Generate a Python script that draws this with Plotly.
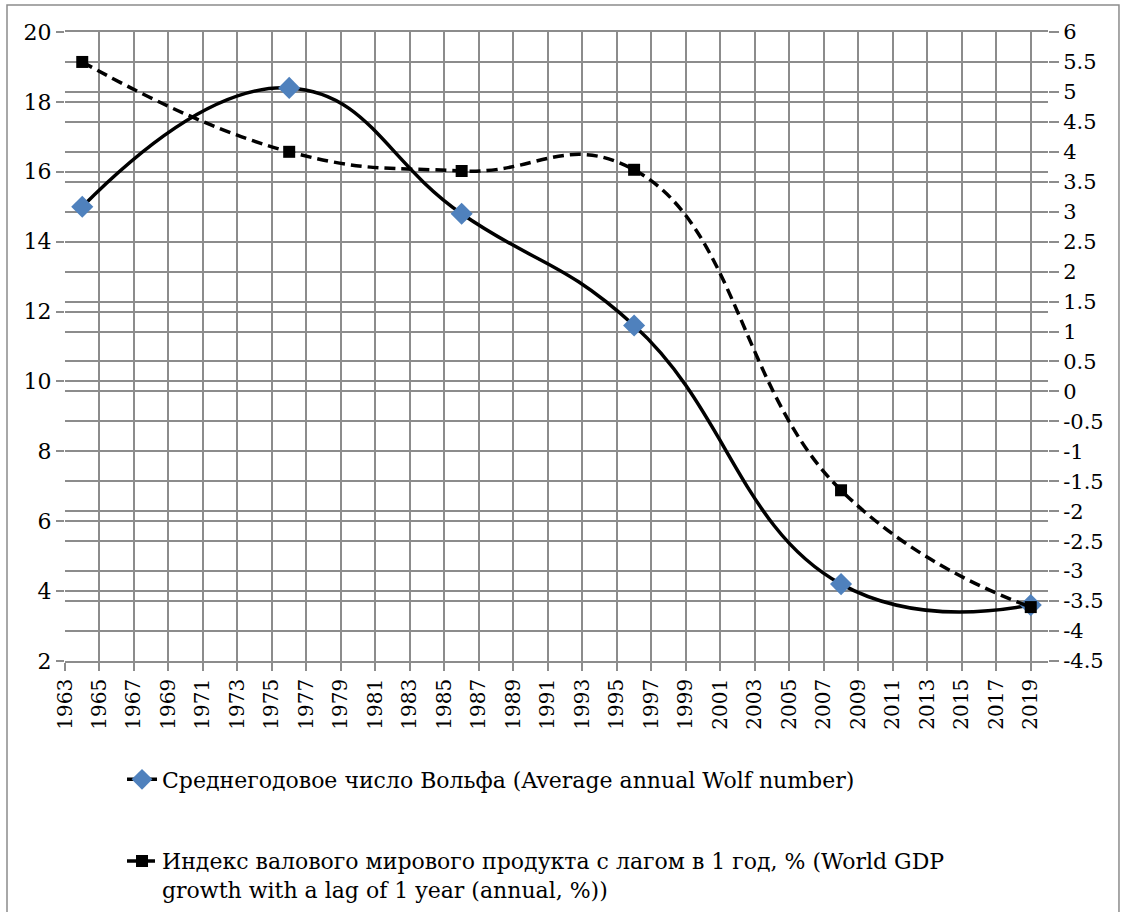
import plotly.graph_objects as go

# years of the observations
years = [1964, 1976, 1986, 1996, 2008, 2019]
# average annual Wolf number (left axis)
wolf = [15.0, 18.4, 14.8, 11.6, 4.2, 3.6]
# world GDP growth with 1-year lag, % (right axis)
gdp = [5.5, 4.0, 3.68, 3.7, -1.65, -3.6]

x_ticks = list(range(1963, 2020, 2))
y2_tickvals = [-4.5, -4, -3.5, -3, -2.5, -2, -1.5, -1, -0.5, 0, 0.5, 1, 1.5,
               2, 2.5, 3, 3.5, 4, 4.5, 5, 5.5, 6]
y2_ticktext = ["-4.5", "-4", "-3.5", "-3", "-2.5", "-2", "-1.5", "-1", "-0.5",
               "0", "0.5", "1", "1.5", "2", "2.5", "3", "3.5", "4", "4.5",
               "5", "5.5", "6"]

name_wolf = "Среднегодовое число Вольфа (Average annual Wolf number)"
name_gdp = ("Индекс валового мирового продукта с лагом в 1 год, % (World GDP<br>"
            "growth with a lag of 1 year (annual, %))")

# Liberation Serif is not available in the sandbox, DejaVu Serif is
FONT = "DejaVu Serif, serif"
GRID = "#8c8c8c"

fig = go.Figure()

fig.add_trace(go.Scatter(
    x=years, y=wolf, name=name_wolf, legendgroup="a",
    mode="lines+markers",
    line=dict(color="black", width=3.5, shape="spline", smoothing=1.3),
    marker=dict(symbol="diamond", size=17, color="#4f81bd"),
))
fig.add_trace(go.Scatter(
    x=years, y=gdp, name=name_gdp, legendgroup="b", yaxis="y2",
    mode="lines+markers",
    line=dict(color="black", width=3.5, shape="spline", smoothing=1.3,
              dash="11px,6px"),
    marker=dict(symbol="square", size=12, color="black"),
))

fig.update_layout(
    width=1126, height=912,
    margin=dict(l=65, r=78, t=32, b=251, autoexpand=False),
    paper_bgcolor="white", plot_bgcolor="white",
    font=dict(family=FONT, size=21, color="black"),
    xaxis=dict(
        range=[1963, 2020], tickvals=x_ticks, tickangle=-90,
        showgrid=True, gridcolor=GRID, gridwidth=1.5,
        showline=True, linecolor=GRID, linewidth=1.5, mirror=True,
        ticks="outside", ticklen=8, tickcolor=GRID, tickwidth=1.5,
        zeroline=False, tickfont=dict(size=20),
    ),
    yaxis=dict(
        range=[2, 20], dtick=2, tick0=2,
        showgrid=True, gridcolor=GRID, gridwidth=1.5,
        ticks="outside", ticklen=8, tickcolor=GRID, tickwidth=1.5,
        zeroline=False, tickfont=dict(size=22),
    ),
    yaxis2=dict(
        range=[-4.5, 6], overlaying="y", side="right",
        tickvals=y2_tickvals, ticktext=y2_ticktext,
        showgrid=True, gridcolor=GRID, gridwidth=1.5,
        ticks="outside", ticklen=10, tickcolor=GRID, tickwidth=1.5,
        zeroline=False,
    ),
    legend=dict(
        x=0.058, y=-0.155, xanchor="left", yanchor="top",
        font=dict(size=22), tracegroupgap=50, valign="top",
        bgcolor="rgba(0,0,0,0)",
    ),
    shapes=[dict(
        type="rect", xref="paper", yref="paper",
        x0=-0.0590, x1=1.0722, y0=-0.45, y1=1.0429,
        line=dict(color=GRID, width=1.5), layer="below",
    )],
)

# drop the default 8px body margin so the figure fills the window exactly
fig.write_html("out.html", config={"displayModeBar": False},
               post_script="document.body.style.margin = '0';")
